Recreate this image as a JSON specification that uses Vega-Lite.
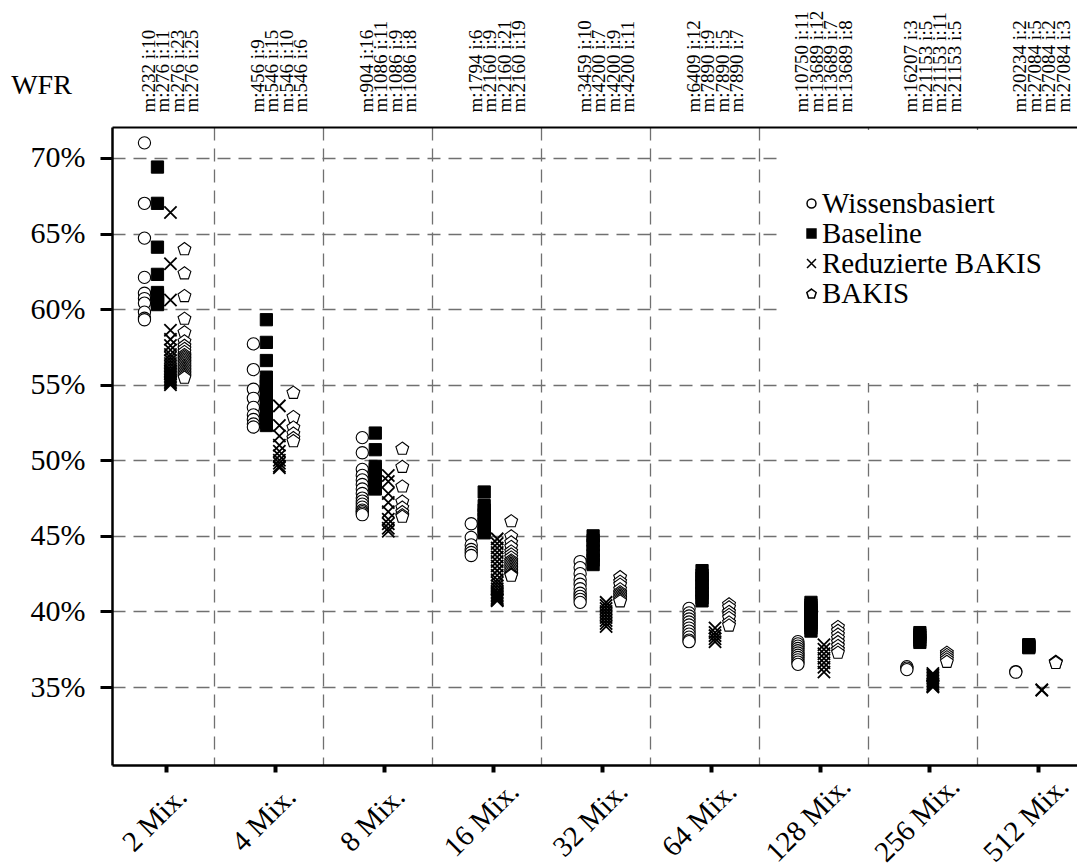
{
"$schema": "https://vega.github.io/schema/vega-lite/v6.json",
"width": 965, "height": 638,
"autosize": {"type": "none"},
"padding": {"left": 112, "top": 127, "right": 0, "bottom": 102},
"background": "white",
"config": {"view": {"stroke": null}, "font": "Liberation Serif", "axis": {"labelColor": "black", "titleColor": "black", "labelFont": "Liberation Serif", "titleFont": "Liberation Serif"},
 "legend": {"titleOrient": "bottom", "titleFontSize": 12, "titlePadding": 4, "orient": "none", "legendX": 670, "legendY": 3, "padding": 59, "fillColor": "white", "labelFontSize": 29, "labelFont": "Liberation Serif", "labelColor": "black", "labelLimit": 600, "symbolSize": 80, "rowPadding": -2, "symbolOffset": -44, "labelOffset": -4}},
"data": {"values": [
{"mix":2,"series":"Wissensbasiert","wfr":71.0},{"mix":2,"series":"Wissensbasiert","wfr":67.0},{"mix":2,"series":"Wissensbasiert","wfr":64.7},{"mix":2,"series":"Wissensbasiert","wfr":62.1},{"mix":2,"series":"Wissensbasiert","wfr":61.05},{"mix":2,"series":"Wissensbasiert","wfr":60.7},{"mix":2,"series":"Wissensbasiert","wfr":60.4},{"mix":2,"series":"Wissensbasiert","wfr":59.8},{"mix":2,"series":"Wissensbasiert","wfr":59.4},{"mix":2,"series":"Wissensbasiert","wfr":59.3},
{"mix":2,"series":"Baseline","wfr":69.4},{"mix":2,"series":"Baseline","wfr":67.0},{"mix":2,"series":"Baseline","wfr":64.1},{"mix":2,"series":"Baseline","wfr":62.3},{"mix":2,"series":"Baseline","wfr":61.1},{"mix":2,"series":"Baseline","wfr":60.9},{"mix":2,"series":"Baseline","wfr":60.8},{"mix":2,"series":"Baseline","wfr":60.6},{"mix":2,"series":"Baseline","wfr":60.5},{"mix":2,"series":"Baseline","wfr":60.4},{"mix":2,"series":"Baseline","wfr":60.3},
{"mix":2,"series":"Reduzierte BAKIS","wfr":66.4},{"mix":2,"series":"Reduzierte BAKIS","wfr":63.0},{"mix":2,"series":"Reduzierte BAKIS","wfr":60.6},{"mix":2,"series":"Reduzierte BAKIS","wfr":58.6},{"mix":2,"series":"Reduzierte BAKIS","wfr":58.0},{"mix":2,"series":"Reduzierte BAKIS","wfr":57.6},{"mix":2,"series":"Reduzierte BAKIS","wfr":57.3},{"mix":2,"series":"Reduzierte BAKIS","wfr":57.0},{"mix":2,"series":"Reduzierte BAKIS","wfr":56.8},{"mix":2,"series":"Reduzierte BAKIS","wfr":56.6},{"mix":2,"series":"Reduzierte BAKIS","wfr":56.4},{"mix":2,"series":"Reduzierte BAKIS","wfr":56.2},{"mix":2,"series":"Reduzierte BAKIS","wfr":56.0},{"mix":2,"series":"Reduzierte BAKIS","wfr":55.9},{"mix":2,"series":"Reduzierte BAKIS","wfr":55.8},{"mix":2,"series":"Reduzierte BAKIS","wfr":55.7},{"mix":2,"series":"Reduzierte BAKIS","wfr":55.6},{"mix":2,"series":"Reduzierte BAKIS","wfr":55.5},{"mix":2,"series":"Reduzierte BAKIS","wfr":55.4},{"mix":2,"series":"Reduzierte BAKIS","wfr":55.3},{"mix":2,"series":"Reduzierte BAKIS","wfr":55.2},{"mix":2,"series":"Reduzierte BAKIS","wfr":55.1},{"mix":2,"series":"Reduzierte BAKIS","wfr":55.0},
{"mix":2,"series":"BAKIS","wfr":64.0},{"mix":2,"series":"BAKIS","wfr":62.4},{"mix":2,"series":"BAKIS","wfr":60.9},{"mix":2,"series":"BAKIS","wfr":59.4},{"mix":2,"series":"BAKIS","wfr":58.5},{"mix":2,"series":"BAKIS","wfr":57.9},{"mix":2,"series":"BAKIS","wfr":57.6},{"mix":2,"series":"BAKIS","wfr":57.4},{"mix":2,"series":"BAKIS","wfr":57.2},{"mix":2,"series":"BAKIS","wfr":57.0},{"mix":2,"series":"BAKIS","wfr":56.9},{"mix":2,"series":"BAKIS","wfr":56.8},{"mix":2,"series":"BAKIS","wfr":56.7},{"mix":2,"series":"BAKIS","wfr":56.6},{"mix":2,"series":"BAKIS","wfr":56.5},{"mix":2,"series":"BAKIS","wfr":56.4},{"mix":2,"series":"BAKIS","wfr":56.3},{"mix":2,"series":"BAKIS","wfr":56.2},{"mix":2,"series":"BAKIS","wfr":56.1},{"mix":2,"series":"BAKIS","wfr":56.0},{"mix":2,"series":"BAKIS","wfr":55.9},{"mix":2,"series":"BAKIS","wfr":55.8},{"mix":2,"series":"BAKIS","wfr":55.7},{"mix":2,"series":"BAKIS","wfr":55.6},{"mix":2,"series":"BAKIS","wfr":55.5},
{"mix":4,"series":"Wissensbasiert","wfr":57.7},{"mix":4,"series":"Wissensbasiert","wfr":56.0},{"mix":4,"series":"Wissensbasiert","wfr":54.7},{"mix":4,"series":"Wissensbasiert","wfr":54.1},{"mix":4,"series":"Wissensbasiert","wfr":53.5},{"mix":4,"series":"Wissensbasiert","wfr":53.0},{"mix":4,"series":"Wissensbasiert","wfr":52.7},{"mix":4,"series":"Wissensbasiert","wfr":52.4},{"mix":4,"series":"Wissensbasiert","wfr":52.2},
{"mix":4,"series":"Baseline","wfr":59.3},{"mix":4,"series":"Baseline","wfr":57.8},{"mix":4,"series":"Baseline","wfr":56.6},{"mix":4,"series":"Baseline","wfr":55.5},{"mix":4,"series":"Baseline","wfr":55.2},{"mix":4,"series":"Baseline","wfr":54.9},{"mix":4,"series":"Baseline","wfr":54.6},{"mix":4,"series":"Baseline","wfr":54.3},{"mix":4,"series":"Baseline","wfr":54.0},{"mix":4,"series":"Baseline","wfr":53.7},{"mix":4,"series":"Baseline","wfr":53.4},{"mix":4,"series":"Baseline","wfr":53.1},{"mix":4,"series":"Baseline","wfr":52.8},{"mix":4,"series":"Baseline","wfr":52.5},{"mix":4,"series":"Baseline","wfr":52.3},
{"mix":4,"series":"Reduzierte BAKIS","wfr":53.6},{"mix":4,"series":"Reduzierte BAKIS","wfr":52.3},{"mix":4,"series":"Reduzierte BAKIS","wfr":51.6},{"mix":4,"series":"Reduzierte BAKIS","wfr":51.0},{"mix":4,"series":"Reduzierte BAKIS","wfr":50.6},{"mix":4,"series":"Reduzierte BAKIS","wfr":50.3},{"mix":4,"series":"Reduzierte BAKIS","wfr":50.0},{"mix":4,"series":"Reduzierte BAKIS","wfr":49.8},{"mix":4,"series":"Reduzierte BAKIS","wfr":49.6},{"mix":4,"series":"Reduzierte BAKIS","wfr":49.5},
{"mix":4,"series":"BAKIS","wfr":54.5},{"mix":4,"series":"BAKIS","wfr":52.9},{"mix":4,"series":"BAKIS","wfr":52.2},{"mix":4,"series":"BAKIS","wfr":51.8},{"mix":4,"series":"BAKIS","wfr":51.5},{"mix":4,"series":"BAKIS","wfr":51.3},
{"mix":8,"series":"Wissensbasiert","wfr":51.5},{"mix":8,"series":"Wissensbasiert","wfr":50.5},{"mix":8,"series":"Wissensbasiert","wfr":49.4},{"mix":8,"series":"Wissensbasiert","wfr":49.0},{"mix":8,"series":"Wissensbasiert","wfr":48.7},{"mix":8,"series":"Wissensbasiert","wfr":48.4},{"mix":8,"series":"Wissensbasiert","wfr":48.1},{"mix":8,"series":"Wissensbasiert","wfr":47.8},{"mix":8,"series":"Wissensbasiert","wfr":47.5},{"mix":8,"series":"Wissensbasiert","wfr":47.3},{"mix":8,"series":"Wissensbasiert","wfr":47.1},{"mix":8,"series":"Wissensbasiert","wfr":46.9},{"mix":8,"series":"Wissensbasiert","wfr":46.7},{"mix":8,"series":"Wissensbasiert","wfr":46.6},{"mix":8,"series":"Wissensbasiert","wfr":46.5},{"mix":8,"series":"Wissensbasiert","wfr":46.4},
{"mix":8,"series":"Baseline","wfr":51.8},{"mix":8,"series":"Baseline","wfr":50.7},{"mix":8,"series":"Baseline","wfr":49.6},{"mix":8,"series":"Baseline","wfr":49.4},{"mix":8,"series":"Baseline","wfr":49.2},{"mix":8,"series":"Baseline","wfr":49.0},{"mix":8,"series":"Baseline","wfr":48.8},{"mix":8,"series":"Baseline","wfr":48.6},{"mix":8,"series":"Baseline","wfr":48.4},{"mix":8,"series":"Baseline","wfr":48.2},{"mix":8,"series":"Baseline","wfr":48.1},
{"mix":8,"series":"Reduzierte BAKIS","wfr":49.0},{"mix":8,"series":"Reduzierte BAKIS","wfr":48.6},{"mix":8,"series":"Reduzierte BAKIS","wfr":47.8},{"mix":8,"series":"Reduzierte BAKIS","wfr":47.2},{"mix":8,"series":"Reduzierte BAKIS","wfr":46.6},{"mix":8,"series":"Reduzierte BAKIS","wfr":46.1},{"mix":8,"series":"Reduzierte BAKIS","wfr":45.8},{"mix":8,"series":"Reduzierte BAKIS","wfr":45.5},{"mix":8,"series":"Reduzierte BAKIS","wfr":45.3},
{"mix":8,"series":"BAKIS","wfr":50.8},{"mix":8,"series":"BAKIS","wfr":49.6},{"mix":8,"series":"BAKIS","wfr":48.3},{"mix":8,"series":"BAKIS","wfr":47.3},{"mix":8,"series":"BAKIS","wfr":46.9},{"mix":8,"series":"BAKIS","wfr":46.6},{"mix":8,"series":"BAKIS","wfr":46.4},{"mix":8,"series":"BAKIS","wfr":46.3},
{"mix":16,"series":"Wissensbasiert","wfr":45.8},{"mix":16,"series":"Wissensbasiert","wfr":44.9},{"mix":16,"series":"Wissensbasiert","wfr":44.4},{"mix":16,"series":"Wissensbasiert","wfr":44.1},{"mix":16,"series":"Wissensbasiert","wfr":43.9},{"mix":16,"series":"Wissensbasiert","wfr":43.7},
{"mix":16,"series":"Baseline","wfr":47.9},{"mix":16,"series":"Baseline","wfr":47.0},{"mix":16,"series":"Baseline","wfr":46.7},{"mix":16,"series":"Baseline","wfr":46.4},{"mix":16,"series":"Baseline","wfr":46.1},{"mix":16,"series":"Baseline","wfr":45.8},{"mix":16,"series":"Baseline","wfr":45.6},{"mix":16,"series":"Baseline","wfr":45.4},{"mix":16,"series":"Baseline","wfr":45.2},
{"mix":16,"series":"Reduzierte BAKIS","wfr":44.8},{"mix":16,"series":"Reduzierte BAKIS","wfr":44.5},{"mix":16,"series":"Reduzierte BAKIS","wfr":44.2},{"mix":16,"series":"Reduzierte BAKIS","wfr":43.9},{"mix":16,"series":"Reduzierte BAKIS","wfr":43.6},{"mix":16,"series":"Reduzierte BAKIS","wfr":43.3},{"mix":16,"series":"Reduzierte BAKIS","wfr":43.0},{"mix":16,"series":"Reduzierte BAKIS","wfr":42.7},{"mix":16,"series":"Reduzierte BAKIS","wfr":42.4},{"mix":16,"series":"Reduzierte BAKIS","wfr":42.1},{"mix":16,"series":"Reduzierte BAKIS","wfr":41.9},{"mix":16,"series":"Reduzierte BAKIS","wfr":41.7},{"mix":16,"series":"Reduzierte BAKIS","wfr":41.5},{"mix":16,"series":"Reduzierte BAKIS","wfr":41.3},{"mix":16,"series":"Reduzierte BAKIS","wfr":41.2},{"mix":16,"series":"Reduzierte BAKIS","wfr":41.1},{"mix":16,"series":"Reduzierte BAKIS","wfr":41.0},{"mix":16,"series":"Reduzierte BAKIS","wfr":40.9},{"mix":16,"series":"Reduzierte BAKIS","wfr":40.8},{"mix":16,"series":"Reduzierte BAKIS","wfr":40.75},{"mix":16,"series":"Reduzierte BAKIS","wfr":40.7},
{"mix":16,"series":"BAKIS","wfr":46.0},{"mix":16,"series":"BAKIS","wfr":45.0},{"mix":16,"series":"BAKIS","wfr":44.6},{"mix":16,"series":"BAKIS","wfr":44.3},{"mix":16,"series":"BAKIS","wfr":44.0},{"mix":16,"series":"BAKIS","wfr":43.8},{"mix":16,"series":"BAKIS","wfr":43.6},{"mix":16,"series":"BAKIS","wfr":43.4},{"mix":16,"series":"BAKIS","wfr":43.3},{"mix":16,"series":"BAKIS","wfr":43.2},{"mix":16,"series":"BAKIS","wfr":43.1},{"mix":16,"series":"BAKIS","wfr":43.0},{"mix":16,"series":"BAKIS","wfr":42.9},{"mix":16,"series":"BAKIS","wfr":42.8},{"mix":16,"series":"BAKIS","wfr":42.7},{"mix":16,"series":"BAKIS","wfr":42.6},{"mix":16,"series":"BAKIS","wfr":42.5},{"mix":16,"series":"BAKIS","wfr":42.45},{"mix":16,"series":"BAKIS","wfr":42.4},
{"mix":32,"series":"Wissensbasiert","wfr":43.3},{"mix":32,"series":"Wissensbasiert","wfr":42.9},{"mix":32,"series":"Wissensbasiert","wfr":42.5},{"mix":32,"series":"Wissensbasiert","wfr":42.1},{"mix":32,"series":"Wissensbasiert","wfr":41.8},{"mix":32,"series":"Wissensbasiert","wfr":41.5},{"mix":32,"series":"Wissensbasiert","wfr":41.2},{"mix":32,"series":"Wissensbasiert","wfr":41.0},{"mix":32,"series":"Wissensbasiert","wfr":40.8},{"mix":32,"series":"Wissensbasiert","wfr":40.6},
{"mix":32,"series":"Baseline","wfr":45.0},{"mix":32,"series":"Baseline","wfr":44.7},{"mix":32,"series":"Baseline","wfr":44.4},{"mix":32,"series":"Baseline","wfr":44.0},{"mix":32,"series":"Baseline","wfr":43.7},{"mix":32,"series":"Baseline","wfr":43.4},{"mix":32,"series":"Baseline","wfr":43.1},
{"mix":32,"series":"Reduzierte BAKIS","wfr":40.6},{"mix":32,"series":"Reduzierte BAKIS","wfr":40.4},{"mix":32,"series":"Reduzierte BAKIS","wfr":40.2},{"mix":32,"series":"Reduzierte BAKIS","wfr":40.0},{"mix":32,"series":"Reduzierte BAKIS","wfr":39.8},{"mix":32,"series":"Reduzierte BAKIS","wfr":39.6},{"mix":32,"series":"Reduzierte BAKIS","wfr":39.4},{"mix":32,"series":"Reduzierte BAKIS","wfr":39.2},{"mix":32,"series":"Reduzierte BAKIS","wfr":39.0},
{"mix":32,"series":"BAKIS","wfr":42.3},{"mix":32,"series":"BAKIS","wfr":42.0},{"mix":32,"series":"BAKIS","wfr":41.8},{"mix":32,"series":"BAKIS","wfr":41.5},{"mix":32,"series":"BAKIS","wfr":41.3},{"mix":32,"series":"BAKIS","wfr":41.2},{"mix":32,"series":"BAKIS","wfr":41.1},{"mix":32,"series":"BAKIS","wfr":41.0},{"mix":32,"series":"BAKIS","wfr":40.9},{"mix":32,"series":"BAKIS","wfr":40.8},{"mix":32,"series":"BAKIS","wfr":40.7},
{"mix":64,"series":"Wissensbasiert","wfr":40.2},{"mix":64,"series":"Wissensbasiert","wfr":39.9},{"mix":64,"series":"Wissensbasiert","wfr":39.7},{"mix":64,"series":"Wissensbasiert","wfr":39.5},{"mix":64,"series":"Wissensbasiert","wfr":39.3},{"mix":64,"series":"Wissensbasiert","wfr":39.1},{"mix":64,"series":"Wissensbasiert","wfr":38.9},{"mix":64,"series":"Wissensbasiert","wfr":38.7},{"mix":64,"series":"Wissensbasiert","wfr":38.5},{"mix":64,"series":"Wissensbasiert","wfr":38.3},{"mix":64,"series":"Wissensbasiert","wfr":38.1},{"mix":64,"series":"Wissensbasiert","wfr":38.0},
{"mix":64,"series":"Baseline","wfr":42.7},{"mix":64,"series":"Baseline","wfr":42.4},{"mix":64,"series":"Baseline","wfr":42.2},{"mix":64,"series":"Baseline","wfr":41.9},{"mix":64,"series":"Baseline","wfr":41.7},{"mix":64,"series":"Baseline","wfr":41.4},{"mix":64,"series":"Baseline","wfr":41.2},{"mix":64,"series":"Baseline","wfr":40.9},{"mix":64,"series":"Baseline","wfr":40.7},
{"mix":64,"series":"Reduzierte BAKIS","wfr":38.9},{"mix":64,"series":"Reduzierte BAKIS","wfr":38.6},{"mix":64,"series":"Reduzierte BAKIS","wfr":38.4},{"mix":64,"series":"Reduzierte BAKIS","wfr":38.2},{"mix":64,"series":"Reduzierte BAKIS","wfr":38.0},
{"mix":64,"series":"BAKIS","wfr":40.5},{"mix":64,"series":"BAKIS","wfr":40.3},{"mix":64,"series":"BAKIS","wfr":40.0},{"mix":64,"series":"BAKIS","wfr":39.8},{"mix":64,"series":"BAKIS","wfr":39.6},{"mix":64,"series":"BAKIS","wfr":39.3},{"mix":64,"series":"BAKIS","wfr":39.1},
{"mix":128,"series":"Wissensbasiert","wfr":38.0},{"mix":128,"series":"Wissensbasiert","wfr":37.85},{"mix":128,"series":"Wissensbasiert","wfr":37.7},{"mix":128,"series":"Wissensbasiert","wfr":37.55},{"mix":128,"series":"Wissensbasiert","wfr":37.4},{"mix":128,"series":"Wissensbasiert","wfr":37.25},{"mix":128,"series":"Wissensbasiert","wfr":37.1},{"mix":128,"series":"Wissensbasiert","wfr":36.95},{"mix":128,"series":"Wissensbasiert","wfr":36.8},{"mix":128,"series":"Wissensbasiert","wfr":36.65},{"mix":128,"series":"Wissensbasiert","wfr":36.5},
{"mix":128,"series":"Baseline","wfr":40.6},{"mix":128,"series":"Baseline","wfr":40.43},{"mix":128,"series":"Baseline","wfr":40.26},{"mix":128,"series":"Baseline","wfr":40.09},{"mix":128,"series":"Baseline","wfr":39.92},{"mix":128,"series":"Baseline","wfr":39.75},{"mix":128,"series":"Baseline","wfr":39.58},{"mix":128,"series":"Baseline","wfr":39.41},{"mix":128,"series":"Baseline","wfr":39.24},{"mix":128,"series":"Baseline","wfr":39.07},{"mix":128,"series":"Baseline","wfr":38.9},{"mix":128,"series":"Baseline","wfr":38.7},
{"mix":128,"series":"Reduzierte BAKIS","wfr":37.8},{"mix":128,"series":"Reduzierte BAKIS","wfr":37.5},{"mix":128,"series":"Reduzierte BAKIS","wfr":37.2},{"mix":128,"series":"Reduzierte BAKIS","wfr":36.9},{"mix":128,"series":"Reduzierte BAKIS","wfr":36.6},{"mix":128,"series":"Reduzierte BAKIS","wfr":36.3},{"mix":128,"series":"Reduzierte BAKIS","wfr":36.0},
{"mix":128,"series":"BAKIS","wfr":39.0},{"mix":128,"series":"BAKIS","wfr":38.75},{"mix":128,"series":"BAKIS","wfr":38.5},{"mix":128,"series":"BAKIS","wfr":38.25},{"mix":128,"series":"BAKIS","wfr":38.0},{"mix":128,"series":"BAKIS","wfr":37.75},{"mix":128,"series":"BAKIS","wfr":37.5},{"mix":128,"series":"BAKIS","wfr":37.3},
{"mix":256,"series":"Wissensbasiert","wfr":36.35},{"mix":256,"series":"Wissensbasiert","wfr":36.25},{"mix":256,"series":"Wissensbasiert","wfr":36.15},
{"mix":256,"series":"Baseline","wfr":38.6},{"mix":256,"series":"Baseline","wfr":38.45},{"mix":256,"series":"Baseline","wfr":38.3},{"mix":256,"series":"Baseline","wfr":38.1},{"mix":256,"series":"Baseline","wfr":37.95},
{"mix":256,"series":"Reduzierte BAKIS","wfr":35.9},{"mix":256,"series":"Reduzierte BAKIS","wfr":35.8},{"mix":256,"series":"Reduzierte BAKIS","wfr":35.7},{"mix":256,"series":"Reduzierte BAKIS","wfr":35.6},{"mix":256,"series":"Reduzierte BAKIS","wfr":35.5},{"mix":256,"series":"Reduzierte BAKIS","wfr":35.4},{"mix":256,"series":"Reduzierte BAKIS","wfr":35.3},{"mix":256,"series":"Reduzierte BAKIS","wfr":35.2},{"mix":256,"series":"Reduzierte BAKIS","wfr":35.1},{"mix":256,"series":"Reduzierte BAKIS","wfr":35.05},{"mix":256,"series":"Reduzierte BAKIS","wfr":35.0},
{"mix":256,"series":"BAKIS","wfr":37.3},{"mix":256,"series":"BAKIS","wfr":37.15},{"mix":256,"series":"BAKIS","wfr":37.0},{"mix":256,"series":"BAKIS","wfr":36.85},{"mix":256,"series":"BAKIS","wfr":36.7},
{"mix":512,"series":"Wissensbasiert","wfr":36.02},{"mix":512,"series":"Wissensbasiert","wfr":35.98},
{"mix":512,"series":"Baseline","wfr":37.8},{"mix":512,"series":"Baseline","wfr":37.75},{"mix":512,"series":"Baseline","wfr":37.7},{"mix":512,"series":"Baseline","wfr":37.65},{"mix":512,"series":"Baseline","wfr":37.6},
{"mix":512,"series":"Reduzierte BAKIS","wfr":34.82},{"mix":512,"series":"Reduzierte BAKIS","wfr":34.78},
{"mix":512,"series":"BAKIS","wfr":36.7},{"mix":512,"series":"BAKIS","wfr":36.67},{"mix":512,"series":"BAKIS","wfr":36.63}
]},
"layer": [
{
"transform": [{"filter": {"field": "series", "equal": "Wissensbasiert"}}],
"mark": {"type": "point", "filled": true, "size": 150, "strokeWidth": 1.1, "xOffset": -22, "opacity": 1},
"encoding": {
"x": {"field": "mix", "type": "quantitative",
 "scale": {"type": "log", "base": 2, "domain": [1.4142, 657.1], "nice": false},
 "axis": {"orient": "bottom", "title": null,
  "values": [2, 2.713, 4, 5.426, 8, 10.85, 16, 21.70, 32, 43.41, 64, 86.82, 128, 173.6, 256, 347.3, 512],
  "labelExpr": "indexof([2,4,8,16,32,64,128,256,512], datum.value) >= 0 ? datum.value + ' Mix.' : ''",
  "labelAngle": -45, "labelAlign": "center", "labelBaseline": "middle", "labelFontSize": 29,
  "labelOffset": -12, "labelPadding": 47, "labelOverlap": false, "labelBound": false, "labelFlush": false,
  "tickSize": 7, "tickWidth": 4, "tickColor": "black",
  "tickOpacity": {"condition": {"test": "indexof([2,4,8,16,32,64,128,256,512], datum.value) >= 0", "value": 1}, "value": 0},
  "grid": true, "gridDash": [13, 8], "gridColor": "#707070", "gridWidth": 1.3,
  "gridOpacity": {"condition": {"test": "indexof([2,4,8,16,32,64,128,256,512], datum.value) >= 0", "value": 0}, "value": 1},
  "domainColor": "black", "domainWidth": 2.5}},
"y": {"field": "wfr", "type": "quantitative",
 "scale": {"domain": [29.84, 72.05], "nice": false, "zero": false},
 "axis": {"title": "WFR", "titleAngle": 0, "titleFontSize": 28, "titleFontWeight": "normal", "titleX": -71, "titleY": -42, "titleAlign": "center", "titleBaseline": "middle",
  "values": [35, 40, 45, 50, 55, 60, 65, 70], "labelExpr": "datum.value + '%'", "labelFontSize": 30, "labelPadding": 15,
  "tickSize": 12, "tickWidth": 3, "tickColor": "black", "domainColor": "black", "domainWidth": 2.5,
  "grid": true, "gridDash": [13, 8], "gridColor": "#707070", "gridWidth": 1.3}},
"stroke": {"value": "black"},
"shape": {"field": "series", "type": "nominal",
 "scale": {"domain": ["Wissensbasiert", "Baseline", "Reduzierte BAKIS", "BAKIS"], "range": ["circle", "square", "M-1,-1L1,1M-1,1L1,-1", "M0,-1L1.046,-0.24L0.647,0.99L-0.647,0.99L-1.046,-0.24Z"]},
 "legend": {"title": "\u00a0", "encode": {"symbols": {"update": {"stroke": {"value": "black"}, "strokeWidth": {"value": 1}}}}}},
"fill": {"field": "series", "type": "nominal",
 "scale": {"domain": ["Wissensbasiert", "Baseline", "Reduzierte BAKIS", "BAKIS"], "range": ["white", "black", "white", "white"]},
 "legend": {"title": "\u00a0", "encode": {"symbols": {"update": {"stroke": {"value": "black"}, "strokeWidth": {"value": 1}}}}}}
}
},
{
"transform": [{"filter": {"field": "series", "equal": "Baseline"}}],
"mark": {"type": "point", "filled": true, "size": 150, "strokeWidth": 1, "xOffset": -9, "opacity": 1},
"encoding": {
"x": {"field": "mix", "type": "quantitative", "axis": null},
"y": {"field": "wfr", "type": "quantitative"},
"stroke": {"value": "black"},
"shape": {"field": "series", "type": "nominal"},
"fill": {"field": "series", "type": "nominal"}
}
},
{
"transform": [{"filter": {"field": "series", "equal": "Reduzierte BAKIS"}}],
"mark": {"type": "point", "filled": true, "size": 150, "strokeWidth": 1.8, "xOffset": 4, "opacity": 1},
"encoding": {
"x": {"field": "mix", "type": "quantitative", "axis": null},
"y": {"field": "wfr", "type": "quantitative"},
"stroke": {"value": "black"},
"shape": {"field": "series", "type": "nominal"},
"fill": {"field": "series", "type": "nominal"}
}
},
{
"transform": [{"filter": {"field": "series", "equal": "BAKIS"}}],
"mark": {"type": "point", "filled": true, "size": 150, "strokeWidth": 1.1, "xOffset": 18, "opacity": 1},
"encoding": {
"x": {"field": "mix", "type": "quantitative", "axis": null},
"y": {"field": "wfr", "type": "quantitative"},
"stroke": {"value": "black"},
"shape": {"field": "series", "type": "nominal"},
"fill": {"field": "series", "type": "nominal"}
}
},
{
"mark": {"type": "point", "opacity": 0},
"encoding": {
"x": {"field": "mix", "type": "quantitative",
 "axis": {"orient": "top", "title": null, "values": [2, 4, 8, 16, 32, 64, 128, 256, 512],
  "labelExpr": "[['m:232 i:10','m:276 i:11','m:276 i:23','m:276 i:25'],['m:456 i:9','m:546 i:15','m:546 i:10','m:546 i:6'],['m:904 i:16','m:1086 i:11','m:1086 i:9','m:1086 i:8'],['m:1794 i:6','m:2160 i:9','m:2160 i:21','m:2160 i:19'],['m:3459 i:10','m:4200 i:7','m:4200 i:9','m:4200 i:11'],['m:6409 i:12','m:7890 i:9','m:7890 i:5','m:7890 i:7'],['m:10750 i:11','m:13689 i:12','m:13689 i:7','m:13689 i:8'],['m:16207 i:3','m:21153 i:5','m:21153 i:11','m:21153 i:5'],['m:20234 i:2','m:27084 i:5','m:27084 i:2','m:27084 i:3']][round(log(datum.value)/LN2)-1]",
  "labelAngle": 270, "labelAlign": "left", "labelBaseline": "middle", "labelFontSize": 19, "labelLineHeight": 14.5,
  "labelOffset": -18, "labelPadding": 15, "labelOverlap": false, "labelBound": false, "labelFlush": false,
  "ticks": false, "grid": false, "domainColor": "black", "domainWidth": 2}}
}
}
],
"resolve": {"axis": {"x": "independent"}}
}
